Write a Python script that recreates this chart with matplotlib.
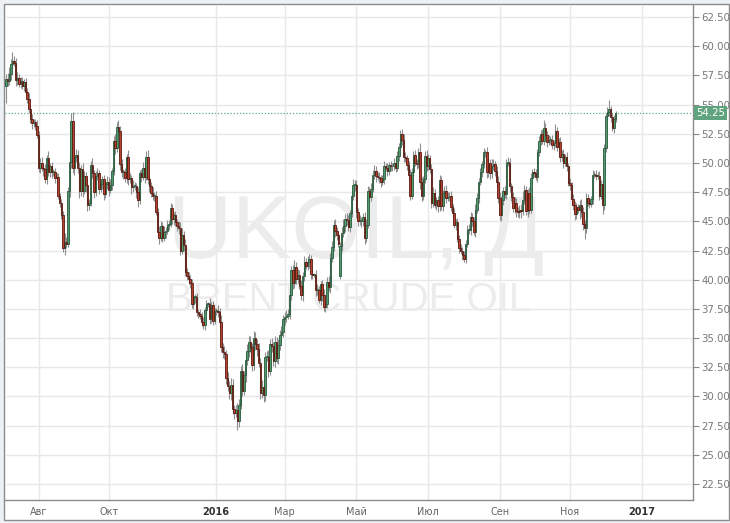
import numpy as np
import pandas as pd
import matplotlib
matplotlib.use("Agg")
import matplotlib.pyplot as plt
from matplotlib.patches import Rectangle
import matplotlib.transforms as mtransforms

# daily closes, one list per month (business days)
c_2015_07 = [57.2, 57.0, 57.6, 58.5, 58.7, 58.6, 57.1, 57.3, 56.8, 57.0, 56.6, 56.9, 56.1, 55.5, 54.6, 53.8, 53.4, 53.5, 53.2, 52.4]
c_2015_08 = [49.6, 50.0, 49.6, 49.5, 48.6, 50.4, 49.2, 49.7, 49.2, 49.2, 48.7, 48.8, 47.2, 46.6, 45.5, 42.7, 43.2, 43.1, 47.6, 50.1, 53.6]
c_2015_09 = [49.6, 50.5, 50.7, 49.6, 47.6, 49.5, 47.6, 48.9, 48.1, 46.4, 46.6, 49.8, 49.1, 47.5, 48.9, 49.1, 47.8, 48.2, 48.6, 47.3, 48.2, 48.4]
c_2015_10 = [47.7, 48.1, 49.3, 51.9, 51.3, 53.1, 52.7, 49.9, 49.2, 49.2, 48.7, 50.5, 48.6, 48.7, 47.9, 48.0, 48.0, 47.5, 46.8, 49.1, 48.8, 49.6]
c_2015_11 = [48.8, 50.5, 48.6, 48.0, 47.4, 47.2, 47.2, 45.8, 44.1, 43.6, 44.6, 43.6, 44.1, 44.2, 44.7, 44.8, 46.1, 45.2, 45.5, 44.9, 44.6]
c_2015_12 = [44.4, 42.5, 43.8, 43.0, 40.7, 40.3, 40.1, 39.7, 37.9, 38.5, 38.5, 37.2, 37.1, 36.9, 36.4, 36.1, 37.4, 37.9, 37.9, 36.6, 37.8, 36.5, 37.3]
c_2016_01 = [37.3, 37.2, 36.4, 34.2, 33.8, 33.6, 31.6, 30.9, 30.3, 31.0, 28.9, 28.6, 28.8, 27.9, 29.3, 32.2, 30.5, 31.8, 33.1, 33.9, 34.7]
c_2016_02 = [34.2, 32.7, 35.0, 34.5, 34.1, 32.9, 30.3, 30.8, 30.1, 33.4, 33.4, 32.2, 34.5, 34.3, 33.0, 34.7, 33.3, 34.4, 35.3, 35.5, 36.6]
c_2016_03 = [36.8, 36.9, 37.1, 38.7, 40.8, 39.7, 41.1, 40.1, 40.4, 39.5, 38.7, 40.3, 41.5, 41.2, 41.5, 41.8, 40.5, 40.4, 40.4, 39.1, 39.1, 38.3, 39.6]
c_2016_04 = [38.7, 37.7, 37.9, 39.8, 39.4, 41.9, 42.8, 44.7, 44.2, 43.8, 43.1, 42.9, 44.0, 44.6, 45.2, 45.1, 44.5, 45.7, 47.2, 48.1, 48.1]
c_2016_05 = [45.8, 45.0, 45.0, 45.0, 45.4, 43.6, 44.7, 47.6, 47.1, 47.8, 49.0, 49.3, 48.9, 48.8, 48.7, 48.4, 48.6, 49.7, 49.6, 49.3, 49.8, 49.7]
c_2016_06 = [49.7, 50.0, 49.6, 50.6, 51.4, 52.5, 52.0, 50.5, 50.4, 49.8, 49.0, 47.2, 49.2, 50.7, 50.0, 49.9, 50.9, 48.4, 47.2, 48.6, 50.6, 49.7]
c_2016_07 = [50.4, 49.5, 46.6, 47.4, 46.4, 46.8, 46.3, 48.5, 46.3, 47.4, 47.6, 47.0, 47.1, 47.2, 46.2, 45.7, 44.7, 44.9, 43.5, 42.7, 42.5]
c_2016_08 = [42.1, 41.8, 43.1, 44.3, 44.3, 45.4, 45.0, 44.1, 46.0, 47.0, 48.4, 49.2, 49.9, 50.9, 50.9, 49.2, 50.0, 49.1, 49.7, 49.9, 49.3, 48.4, 47.0]
c_2016_09 = [45.5, 46.8, 47.6, 47.3, 50.0, 50.0, 48.0, 47.1, 46.1, 46.6, 45.9, 45.8, 46.0, 45.9, 46.8, 47.7, 45.9, 47.4, 46.0, 48.7, 49.2, 49.1]
c_2016_10 = [48.8, 50.9, 51.9, 52.5, 51.9, 53.0, 52.4, 51.8, 52.0, 52.0, 51.5, 51.7, 52.7, 51.4, 51.8, 50.5, 50.8, 50.0, 50.5, 49.7, 48.3]
c_2016_11 = [48.1, 46.9, 46.4, 45.6, 46.2, 46.0, 46.4, 45.8, 44.8, 44.4, 47.0, 46.6, 46.5, 46.9, 49.0, 49.0, 48.9, 48.9, 47.2, 48.2, 46.4, 51.3]
c_2016_12 = [54.0, 54.4, 54.6, 53.9, 53.0, 53.8, 54.25]

# upper / lower shadow lengths
u_2015_07 = [0.4, 0.5, 0.6, 0.4, 0.8, 0.5, 0.4, 0.5, 0.3, 0.4, 0.4, 0.3, 0.4, 0.3, 0.5, 0.3, 0.4, 0.3, 0.3, 0.5]
d_2015_07 = [1.5, 0.4, 0.3, 0.5, 0.4, 0.3, 0.5, 0.4, 0.3, 0.4, 0.3, 0.4, 0.3, 0.4, 0.3, 0.4, 0.5, 0.3, 0.4, 0.3]
u_2015_08 = [0.3, 0.4, 0.5, 0.3, 0.4, 0.3, 0.6, 0.3, 0.4, 0.3, 0.4, 0.3, 0.3, 0.2, 0.3, 0.4, 0.8, 0.5, 0.3, 0.6, 0.7]
d_2015_08 = [0.4, 0.5, 0.3, 0.6, 0.3, 0.4, 0.3, 0.4, 0.5, 0.3, 0.4, 0.3, 0.3, 0.4, 0.3, 0.3, 0.6, 0.4, 0.3, 0.5, 0.5]
u_2015_09 = [0.8, 0.6, 0.5, 0.4, 0.5, 0.3, 0.5, 0.4, 0.3, 0.5, 0.3, 0.4, 0.6, 0.3, 0.4, 0.5, 0.3, 0.4, 0.3, 0.4, 0.3, 0.5]
d_2015_09 = [0.5, 0.6, 0.4, 0.5, 0.6, 0.4, 0.5, 0.3, 0.6, 0.5, 0.4, 0.3, 0.4, 0.5, 0.3, 0.4, 0.5, 0.3, 0.4, 0.5, 0.3, 0.4]
u_2015_10 = [0.4, 0.5, 0.3, 0.4, 0.6, 0.4, 0.6, 0.5, 0.4, 0.3, 0.4, 0.3, 0.6, 0.4, 0.3, 0.5, 0.4, 0.3, 0.4, 0.3, 0.4, 0.5]
d_2015_10 = [0.5, 0.3, 0.4, 0.3, 0.5, 0.4, 0.3, 0.5, 0.4, 0.6, 0.3, 0.4, 0.5, 0.3, 0.6, 0.4, 0.3, 0.5, 0.6, 0.3, 0.4, 0.3]
u_2015_11 = [0.4, 0.5, 0.6, 0.3, 0.4, 0.5, 0.3, 0.4, 0.3, 0.5, 0.4, 0.3, 0.5, 0.3, 0.4, 0.3, 0.5, 0.4, 0.3, 0.4, 0.3]
d_2015_11 = [0.5, 0.3, 0.4, 0.5, 0.3, 0.4, 0.5, 0.3, 0.4, 0.5, 0.3, 0.4, 0.3, 0.5, 0.3, 0.4, 0.3, 0.4, 0.5, 0.3, 0.4]
u_2015_12 = [0.4, 0.5, 0.6, 0.4, 0.5, 0.3, 0.4, 0.3, 0.4, 0.5, 0.3, 0.4, 0.3, 0.4, 0.3, 0.4, 0.3, 0.4, 0.2, 0.5, 0.3, 0.4, 0.3]
d_2015_12 = [0.5, 0.4, 0.3, 0.5, 0.4, 0.3, 0.5, 0.4, 0.3, 0.4, 0.5, 0.3, 0.4, 0.3, 0.4, 0.3, 0.4, 0.3, 0.2, 0.4, 0.3, 0.4, 0.3]
u_2016_01 = [0.3, 0.5, 0.4, 0.6, 0.4, 0.5, 0.4, 0.5, 0.4, 0.6, 0.5, 0.4, 0.5, 0.6, 0.5, 0.4, 0.6, 0.4, 0.5, 0.6, 0.5]
d_2016_01 = [0.3, 0.4, 0.5, 0.4, 0.5, 0.4, 0.5, 0.4, 0.5, 0.6, 0.4, 0.5, 0.4, 0.8, 0.5, 0.4, 0.5, 0.4, 0.6, 0.4, 0.5]
u_2016_02 = [0.5, 0.4, 0.6, 0.5, 0.4, 0.5, 0.4, 0.6, 0.5, 0.4, 0.5, 0.6, 0.4, 0.5, 0.4, 0.5, 0.4, 0.5, 0.4, 0.5, 0.4]
d_2016_02 = [0.4, 0.5, 0.4, 0.5, 0.6, 0.4, 0.5, 0.4, 0.6, 0.5, 0.4, 0.5, 0.4, 0.5, 0.4, 0.5, 0.4, 0.5, 0.4, 0.3, 0.4]
u_2016_03 = [0.4, 0.5, 0.4, 0.5, 0.4, 0.5, 0.6, 0.4, 0.5, 0.4, 0.5, 0.4, 0.5, 0.4, 0.5, 0.4, 0.3, 0.4, 0.2, 0.4, 0.5, 0.4, 0.3]
d_2016_03 = [0.5, 0.4, 0.3, 0.5, 0.4, 0.5, 0.4, 0.5, 0.4, 0.3, 0.4, 0.5, 0.4, 0.3, 0.4, 0.5, 0.4, 0.3, 0.2, 0.5, 0.4, 0.3, 0.5]
u_2016_04 = [0.4, 0.5, 0.3, 0.4, 0.5, 0.4, 0.5, 0.4, 0.5, 0.3, 0.4, 0.3, 0.5, 0.6, 0.4, 0.5, 0.4, 0.3, 0.4, 0.5, 0.4]
d_2016_04 = [0.5, 0.4, 0.5, 0.3, 0.4, 0.5, 0.4, 0.3, 0.5, 0.4, 0.3, 0.2, 0.4, 0.3, 0.5, 0.4, 0.3, 0.4, 0.3, 0.4, 0.5]
u_2016_05 = [0.4, 0.3, 0.5, 0.4, 0.3, 0.4, 0.5, 0.4, 0.3, 0.5, 0.4, 0.5, 0.4, 0.3, 0.4, 0.3, 0.4, 0.5, 0.3, 0.4, 0.3, 0.4]
d_2016_05 = [0.5, 0.4, 0.3, 0.5, 0.4, 0.5, 0.4, 0.3, 0.5, 0.4, 0.3, 0.4, 0.5, 0.3, 0.4, 0.5, 0.3, 0.4, 0.3, 0.4, 0.3, 0.4]
u_2016_06 = [0.3, 0.4, 0.3, 0.4, 0.3, 0.3, 0.4, 0.5, 0.4, 0.3, 0.4, 0.5, 0.4, 0.3, 0.4, 0.3, 0.4, 0.8, 0.4, 0.3, 0.4, 0.5]
d_2016_06 = [0.4, 0.3, 0.4, 0.3, 0.4, 0.3, 0.5, 0.4, 0.3, 0.4, 0.5, 0.4, 0.3, 0.4, 0.3, 0.4, 0.3, 0.6, 0.5, 0.4, 0.3, 0.4]
u_2016_07 = [0.4, 0.3, 0.4, 0.5, 0.4, 0.3, 0.4, 0.5, 0.4, 0.3, 0.4, 0.5, 0.4, 0.3, 0.4, 0.3, 0.4, 0.3, 0.4, 0.3, 0.4]
d_2016_07 = [0.3, 0.4, 0.5, 0.4, 0.3, 0.4, 0.5, 0.4, 0.3, 0.4, 0.5, 0.4, 0.3, 0.4, 0.3, 0.4, 0.3, 0.4, 0.3, 0.4, 0.3]
u_2016_08 = [0.3, 0.4, 0.3, 0.4, 0.5, 0.4, 0.3, 0.4, 0.5, 0.4, 0.3, 0.4, 0.3, 0.4, 0.2, 0.5, 0.4, 0.3, 0.6, 0.4, 0.3, 0.4, 0.5]
d_2016_08 = [0.4, 0.3, 0.4, 0.3, 0.4, 0.5, 0.4, 0.3, 0.4, 0.3, 0.4, 0.3, 0.4, 0.3, 0.4, 0.5, 0.4, 0.5, 0.4, 0.3, 0.4, 0.5, 0.4]
u_2016_09 = [0.5, 0.4, 0.3, 0.4, 0.3, 0.5, 0.4, 0.3, 0.4, 0.5, 0.4, 0.3, 0.4, 0.5, 0.8, 0.4, 0.3, 0.4, 0.5, 0.4, 0.3, 0.4]
d_2016_09 = [0.4, 0.5, 0.4, 0.3, 0.4, 0.3, 0.5, 0.4, 0.3, 0.4, 0.5, 0.4, 0.5, 0.6, 0.4, 0.3, 0.4, 0.5, 0.4, 0.3, 0.4, 0.3]
u_2016_10 = [0.4, 0.3, 0.4, 0.3, 0.4, 0.7, 0.4, 0.3, 0.4, 0.3, 0.4, 0.3, 0.6, 0.4, 0.3, 0.4, 0.3, 0.4, 0.3, 0.4, 0.3]
d_2016_10 = [0.3, 0.4, 0.3, 0.4, 0.3, 0.4, 0.3, 0.4, 0.3, 0.4, 0.3, 0.4, 0.3, 0.4, 0.3, 0.4, 0.3, 0.4, 0.3, 0.4, 0.3]
u_2016_11 = [0.4, 0.3, 0.4, 0.3, 0.4, 0.3, 0.4, 0.5, 0.4, 0.3, 0.4, 0.3, 0.4, 0.3, 0.4, 0.3, 0.4, 0.3, 0.4, 0.3, 0.4, 0.3]
d_2016_11 = [0.4, 0.5, 0.4, 0.5, 0.4, 0.3, 0.8, 0.4, 0.5, 0.9, 0.4, 0.3, 0.4, 0.3, 0.4, 0.3, 0.4, 0.3, 0.4, 0.3, 0.8, 0.4]
u_2016_12 = [0.3, 0.4, 0.8, 0.3, 0.4, 0.3, 0.2]
d_2016_12 = [0.4, 0.3, 0.4, 0.4, 0.3, 0.4, 0.3]

# opens that gap away from the previous close
open_gaps = {"2015-07-06": 56.6, "2016-04-18": 40.3}

last_price = 54.25
month_ticks = ["2015-08-01", "2015-10-01", "2016-01-01", "2016-03-01", "2016-05-01",
               "2016-07-01", "2016-09-01", "2016-11-01", "2017-01-01"]
month_labels = ["Авг", "Окт", "2016", "Мар", "Май", "Июл", "Сен", "Ноя", "2017"]
y_ticks = np.arange(22.5, 63, 2.5)

closes_m = [c_2015_07, c_2015_08, c_2015_09, c_2015_10, c_2015_11, c_2015_12,
            c_2016_01, c_2016_02, c_2016_03, c_2016_04, c_2016_05, c_2016_06,
            c_2016_07, c_2016_08, c_2016_09, c_2016_10, c_2016_11, c_2016_12]
ups_m = [u_2015_07, u_2015_08, u_2015_09, u_2015_10, u_2015_11, u_2015_12,
         u_2016_01, u_2016_02, u_2016_03, u_2016_04, u_2016_05, u_2016_06,
         u_2016_07, u_2016_08, u_2016_09, u_2016_10, u_2016_11, u_2016_12]
dns_m = [d_2015_07, d_2015_08, d_2015_09, d_2015_10, d_2015_11, d_2015_12,
         d_2016_01, d_2016_02, d_2016_03, d_2016_04, d_2016_05, d_2016_06,
         d_2016_07, d_2016_08, d_2016_09, d_2016_10, d_2016_11, d_2016_12]

closes = np.array(sum(closes_m, []))
up_w = np.array(sum(ups_m, []))
dn_w = np.array(sum(dns_m, []))

all_days = pd.bdate_range("2015-07-06", "2017-02-28")
days = all_days[:len(closes)]
assert days[-1] == pd.Timestamp("2016-12-09"), days[-1]
assert len(up_w) == len(closes) == len(dn_w)

opens = np.r_[closes[0], closes[:-1]]
for d, v in open_gaps.items():
    opens[days.get_loc(pd.Timestamp(d))] = v
highs = np.maximum(opens, closes) + up_w
lows = np.minimum(opens, closes) - dn_w
x = np.arange(len(closes))

W, H = 730, 523
fig = plt.figure(figsize=(W / 100, H / 100), dpi=100, facecolor="#eef1f4")
fig.patches.append(Rectangle((4 / W, 3 / H), 725 / W, 516 / H, transform=fig.transFigure,
                             facecolor="white", edgecolor="#8c8c8c", lw=1, zorder=-10))
ax = fig.add_axes([5 / W, 23 / H, 688 / W, 495 / H])
ax.set_facecolor("none")

# watermark
ax.text(0.51, 0.535, "UKOIL, Д", transform=ax.transAxes, ha="center", va="center",
        fontsize=64, color="#ececec", family="Liberation Sans", zorder=1)
ax.text(0.5, 0.405, "BRENT CRUDE OIL", transform=ax.transAxes, ha="center", va="center",
        fontsize=29, color="#ececec", family="Liberation Sans", zorder=1)

up = closes >= opens
ax.vlines(x, lows, highs, color="#8f8f8f", lw=0.8, zorder=2)
body = np.maximum(np.abs(closes - opens), 0.08)
ax.bar(x[up], body[up], bottom=opens[up], width=0.9, color="#4f9a6c",
       edgecolor="#2b5a3d", lw=0.6, zorder=3)
ax.bar(x[~up], body[~up], bottom=closes[~up], width=0.9, color="#b8402e",
       edgecolor="#561a10", lw=0.6, zorder=3)

ax.axhline(last_price, color="#5fae84", lw=0.9, ls=(0, (1, 1.5)), zorder=2)

xt = all_days.searchsorted(pd.to_datetime(month_ticks))
ax.set_xticks(xt)
ax.set_xticklabels(month_labels)
for lab, txt in zip(ax.get_xticklabels(), month_labels):
    if txt.isdigit():
        lab.set_color("#333333")
        lab.set_fontweight("bold")
    else:
        lab.set_color("#666666")
ax.tick_params(axis="x", length=0, labelsize=7, pad=5)

ax.set_yticks(y_ticks)
ax.set_yticklabels([f"{v:.2f}" for v in y_ticks])
ax.yaxis.tick_right()
ax.tick_params(axis="y", length=4, width=0.8, color="#888888", labelsize=7.3,
               labelcolor="#777777", pad=2)

ax.grid(True, color="#e8e8e8", lw=1, zorder=0)
ax.set_axisbelow(True)
ax.set_xlim(-0.6, 421.5)
ax.set_ylim(21.13, 63.53)
for s in ["top", "left"]:
    ax.spines[s].set_visible(False)
for s in ["right", "bottom"]:
    ax.spines[s].set_color("#8c8c8c")
    ax.spines[s].set_linewidth(1)

trans = mtransforms.blended_transform_factory(ax.transAxes, ax.transData)
ax.text(1.004, last_price, f"{last_price:.2f}", transform=trans, ha="left", va="center",
        fontsize=7.3, color="white", zorder=5,
        bbox=dict(boxstyle="square,pad=0.2", facecolor="#5fa47e", edgecolor="none"))

fig.savefig("out.png", dpi=100, facecolor=fig.get_facecolor())
